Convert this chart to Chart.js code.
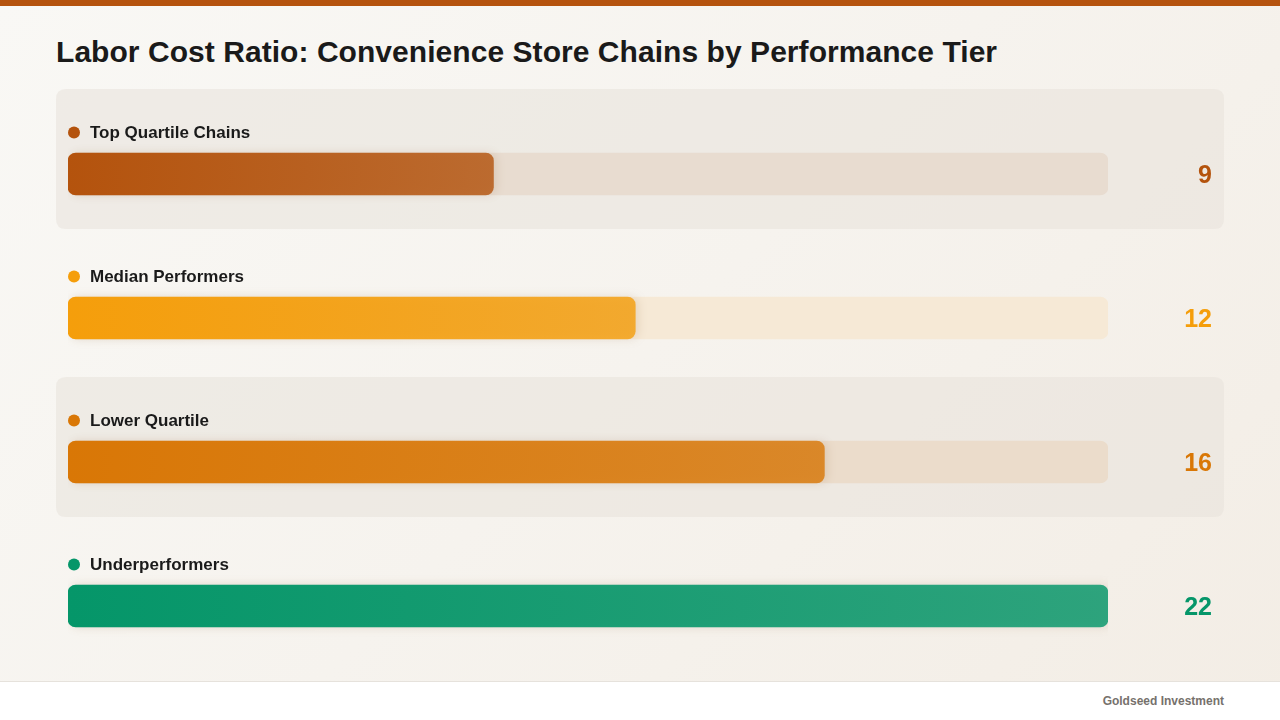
<!DOCTYPE html>
<html>
<head>
<meta charset="utf-8">
<script src="https://cdn.jsdelivr.net/npm/chart.js@4.4.1/dist/chart.umd.min.js"></script>
<style>
  html, body { margin: 0; padding: 0; }
  body {
    width: 1280px; height: 720px; overflow: hidden; position: relative;
    font-family: "Liberation Sans", Arial, Helvetica, sans-serif;
    background: linear-gradient(135deg, #f9f8f5 0%, #f6f3ee 50%, #f3ede5 100%);
  }
  #topbar { position: absolute; left: 0; top: 0; width: 1280px; height: 6px; background: #b5530e; }
  #title {
    position: absolute; left: 56px; top: 35px; margin: 0; line-height: 34px;
    font-size: 30px; font-weight: bold; color: #1a1a1a; letter-spacing: 0.05px;
    white-space: nowrap;
  }
  #wrap { position: absolute; left: 0; top: 0; width: 1280px; height: 681px; }
  #footer {
    position: absolute; left: 0; top: 681px; width: 1280px; height: 39px;
    background: #ffffff; border-top: 1px solid #e6e2dc; box-sizing: border-box;
  }
  #footer span {
    position: absolute; right: 56px; top: 12px; font-size: 12px; font-weight: bold; color: #76716c;
  }
</style>
</head>
<body>
<div id="topbar"></div>
<h1 id="title">Labor Cost Ratio: Convenience Store Chains by Performance Tier</h1>
<div id="wrap"><canvas id="c" width="1280" height="681"></canvas></div>
<div id="footer"><span>Goldseed Investment</span></div>
<script>
const categories = ["Top Quartile Chains", "Median Performers", "Lower Quartile", "Underperformers"];
const values = [9, 12, 16, 22];
const scaleMax = 22;
const colors = ["#b4530d", "#f59e0b", "#d97706", "#059669"];
const trackColors = ["#e8dcd0", "#f6e9d6", "#ebdccb", "#dcece4"];
const cardRows = [true, false, true, false];

function hexToRgb(h) {
  const n = parseInt(h.slice(1), 16);
  return [(n >> 16) & 255, (n >> 8) & 255, n & 255];
}
function rgba(h, a) { const [r, g, b] = hexToRgb(h); return `rgba(${r},${g},${b},${a})`; }

function barGradient(ctx) {
  const chart = ctx.chart;
  const i = ctx.dataIndex;
  const xs = chart.scales && chart.scales.x;
  if (!xs || i === undefined) return colors[i || 0];
  const x0 = xs.getPixelForValue(0);
  const x1 = xs.getPixelForValue(values[i]);
  if (!isFinite(x0) || !isFinite(x1) || x1 <= x0) return colors[i];
  const g = chart.ctx.createLinearGradient(x0, 0, x1, 0);
  g.addColorStop(0, rgba(colors[i], 1));
  g.addColorStop(1, rgba(colors[i], 0.8));
  return g;
}

function roundRect(ctx, x, y, w, h, r) {
  ctx.beginPath();
  ctx.moveTo(x + r, y);
  ctx.lineTo(x + w - r, y);
  ctx.quadraticCurveTo(x + w, y, x + w, y + r);
  ctx.lineTo(x + w, y + h - r);
  ctx.quadraticCurveTo(x + w, y + h, x + w - r, y + h);
  ctx.lineTo(x + r, y + h);
  ctx.quadraticCurveTo(x, y + h, x, y + h - r);
  ctx.lineTo(x, y + r);
  ctx.quadraticCurveTo(x, y, x + r, y);
  ctx.closePath();
}

const decor = {
  id: "decor",
  beforeDatasetsDraw(chart) {
    const ctx = chart.ctx;
    const ys = chart.scales.y;
    ctx.save();
    categories.forEach((c, i) => {
      const cy = ys.getPixelForValue(i);
      if (cardRows[i]) {
        ctx.fillStyle = "rgba(232,226,218,0.55)";
        roundRect(ctx, 56, cy - 85, 1168, 140, 10);
        ctx.fill();
      }
      ctx.fillStyle = colors[i];
      ctx.beginPath();
      ctx.arc(74, cy - 41.5, 6, 0, Math.PI * 2);
      ctx.fill();
      ctx.fillStyle = "#1a1a1a";
      ctx.font = "bold 17px 'Liberation Sans', Arial, sans-serif";
      ctx.textBaseline = "middle";
      ctx.textAlign = "left";
      ctx.fillText(c, 90, cy - 40.5);
      ctx.fillStyle = colors[i];
      ctx.font = "bold 25px 'Liberation Sans', Arial, sans-serif";
      ctx.textAlign = "right";
      ctx.fillText(String(values[i]), 1212, cy + 2);
    });
    ctx.restore();
  },
  beforeDatasetDraw(chart, args) {
    if (args.index === 0) {
      chart.ctx.save();
      chart.ctx.shadowColor = "rgba(120,70,20,0.16)";
      chart.ctx.shadowBlur = 10;
      chart.ctx.shadowOffsetX = 3;
    }
  },
  afterDatasetDraw(chart, args) {
    if (args.index === 0) chart.ctx.restore();
  }
};

new Chart(document.getElementById("c"), {
  type: "bar",
  data: {
    labels: categories,
    datasets: [
      {
        label: "Labor cost ratio",
        data: values,
        backgroundColor: barGradient,
        borderRadius: 8,
        borderSkipped: false,
        barThickness: 42,
        grouped: false
      },
      {
        label: "Track",
        data: categories.map(() => scaleMax),
        backgroundColor: trackColors,
        borderRadius: 8,
        borderSkipped: false,
        barThickness: 42,
        grouped: false
      }
    ]
  },
  options: {
    indexAxis: "y",
    responsive: false,
    animation: false,
    layout: { padding: { left: 68, right: 172, top: 102, bottom: 3 } },
    scales: {
      x: { min: 0, max: scaleMax, display: false },
      y: { display: false }
    },
    plugins: { legend: { display: false }, tooltip: { enabled: false } }
  },
  plugins: [decor]
});
</script>
</body>
</html>
